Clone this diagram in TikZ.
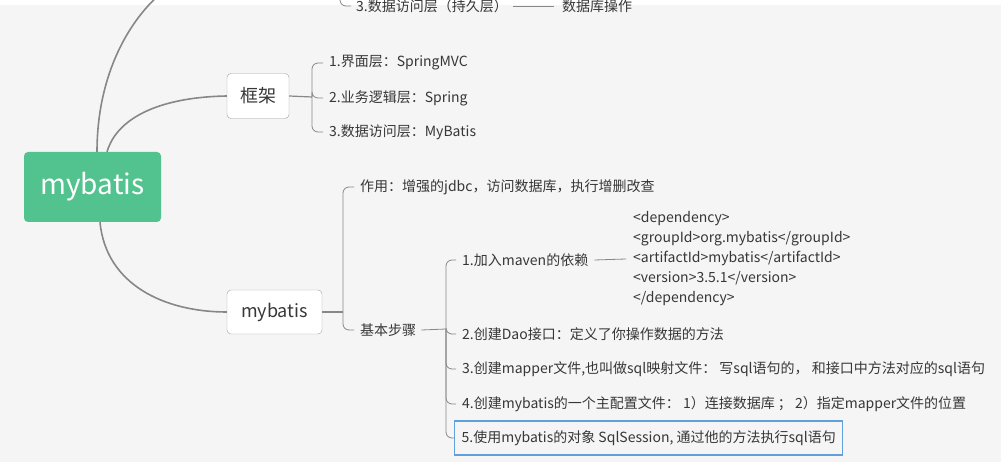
\documentclass[tikz,border=0pt]{standalone}
\usepackage{fontspec}
\setmainfont{Noto Sans CJK SC}
\usetikzlibrary{positioning,calc}
\definecolor{rootgreen}{RGB}{82,195,142}
\definecolor{linegray}{RGB}{135,135,135}
\definecolor{boxgray}{RGB}{160,160,160}
\definecolor{bggray}{RGB}{245,245,245}
\definecolor{selblue}{RGB}{98,160,220}
\definecolor{txtgray}{RGB}{55,55,55}

\begin{document}
\begin{tikzpicture}[x=1pt,y=-1pt,
    topic/.style={draw=boxgray,fill=white,rounded corners=4pt,text=txtgray,inner sep=0pt},
    leaf/.style={anchor=west,inner sep=1pt,text=txtgray,font=\fontsize{14}{16}\selectfont},
    branch/.style={draw=linegray,line width=1.6pt},
    brace/.style={draw=linegray,line width=0.8pt,rounded corners=6pt}]
    % page and background
    \useasboundingbox (0,0) rectangle (1001,462);
    \fill[white] (0,0) rectangle (1001,462);
    \fill[bggray] (0,5) rectangle (1001,462);

    % root and main topics
    \node[fill=rootgreen,rounded corners=4pt,text=white,minimum width=137pt,minimum height=70pt,
          font=\fontsize{28}{32}\selectfont] (root) at (92.5,187) {mybatis};
    \node[topic,minimum width=62pt,minimum height=45pt,font=\fontsize{18}{20}\selectfont] (frame) at (258,96) {框架};
    \node[topic,minimum width=95pt,minimum height=44pt,font=\fontsize{18}{20}\selectfont] (mb) at (274.5,312) {mybatis};
    \coordinate (upend) at (160,-6);

    \draw[branch] (root.north) ++(4.5,0) .. controls (97,80) and (125,25) .. (upend);
    \draw[branch] (root.north) ++(14.5,0) .. controls (118,115) and (165,97) .. (frame.west);
    \draw[branch] (root.south) ++(7.5,0) .. controls (106,285) and (165,312) .. (mb.west);

    % cut-off group at the top
    \node[leaf] (persist) at (355,6) {3.数据访问层（持久层）};
    \node[leaf] (dbop) at (561,6) {数据库操作};
    \coordinate (upbrace) at (340,-20);
    \draw[brace] (upbrace) |- ([xshift=-4pt]persist.west);
    \draw[draw=linegray,line width=0.8pt] ([xshift=4pt]persist.east) -- ([xshift=-7pt]dbop.west);

    % layers of the framework
    \node[leaf] (ui) at (328,63) {1.界面层：SpringMVC};
    \node[leaf] (biz) at (328,98) {2.业务逻辑层：Spring};
    \node[leaf] (dao) at (328,132) {3.数据访问层：MyBatis};
    \coordinate (fb) at (312,97);
    \draw[branch,line width=1.2pt] (frame.east) -- (fb);
    \foreach \c in {ui,biz,dao}
        \draw[brace] (fb) |- ([xshift=-5pt]\c.west);

    % mybatis topic
    \node[leaf] (use) at (359,187) {作用：增强的jdbc，访问数据库，执行增删改查};
    \node[leaf] (steps) at (359,330) {基本步骤};
    \coordinate (mbb) at (343,312);
    \draw[branch,line width=1.2pt] (mb.east) -- (mbb);
    \foreach \c in {use,steps}
        \draw[brace] (mbb) |- ([xshift=-5pt]\c.west);

    % steps
    \node[leaf] (s1) at (461,260) {1.加入maven的依赖};
    \node[leaf] (s2) at (461,334) {2.创建Dao接口：定义了你操作数据的方法};
    \node[leaf] (s3) at (461,369) {3.创建mapper文件,也叫做sql映射文件： 写sql语句的， 和接口中方法对应的sql语句};
    \node[leaf] (s4) at (461,404) {4.创建mybatis的一个主配置文件： 1）连接数据库 ； 2）指定mapper文件的位置};
    \node[leaf,draw=selblue,line width=1.3pt,inner xsep=7pt,minimum height=34pt,anchor=west] (s5) at (454,438)
        {5.使用mybatis的对象 SqlSession, 通过他的方法执行sql语句};
    \coordinate (stb) at (446,329);
    \draw[draw=linegray,line width=0.8pt] ([xshift=4pt]steps.east) -- (stb);
    \foreach \c in {s1,s2,s3,s4}
        \draw[brace] (stb) |- ([xshift=-5pt]\c.west);
    \draw[brace] (stb) |- (s5.west);

    % maven dependency
    \node[leaf,align=left,font=\fontsize{14}{20}\selectfont] (dep) at (632,259)
        {<dependency>\\<groupId>org.mybatis</groupId>\\<artifactId>mybatis</artifactId>\\<version>3.5.1</version>\\</dependency>};
    \draw[draw=linegray,line width=0.8pt] ([xshift=5pt]s1.east) -- ([xshift=-6pt]dep.west);
\end{tikzpicture}
\end{document}
